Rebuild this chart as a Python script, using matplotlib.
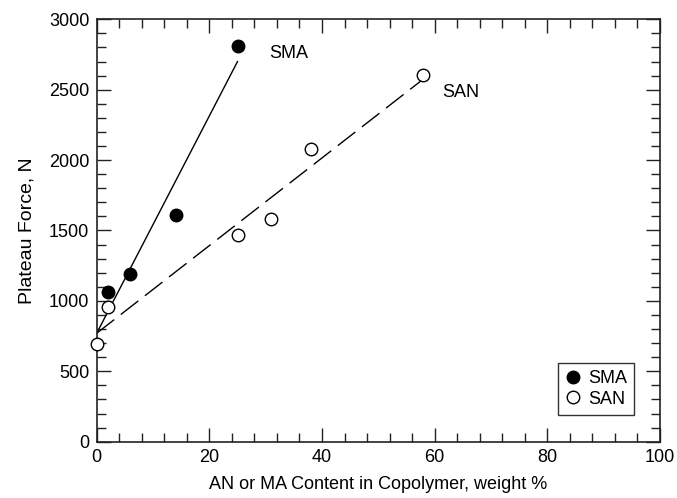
import matplotlib
matplotlib.use("Agg")
import matplotlib.pyplot as plt
from matplotlib.ticker import MultipleLocator

plt.rcParams['font.family'] = ['Liberation Sans', 'DejaVu Sans']

# Data
sma_x = [2, 6, 14, 25]
sma_y = [1063, 1193, 1610, 2812]
san_x = [0, 2, 25, 31, 38, 58]
san_y = [692, 959, 1466, 1582, 2081, 2604]

# Fit lines
sma_fit_x = [0, 25]
sma_fit_y = [770, 2700]
san_fit_x = [0, 58]
san_fit_y = [770, 2576]

fig = plt.figure(figsize=(6.77, 4.98), dpi=100)
ax = fig.add_axes([0.1428, 0.1131, 0.8321, 0.8481])

ax.plot(sma_fit_x, sma_fit_y, color='black', lw=1.0, zorder=2)
ax.plot(san_fit_x, san_fit_y, color='black', lw=1.0, dashes=(16, 6), zorder=2)

ax.plot(sma_x, sma_y, 'o', ms=9, mfc='black', mec='black', mew=1.0,
        label='SMA', zorder=3, clip_on=False)
ax.plot(san_x, san_y, 'o', ms=9, mfc='white', mec='black', mew=1.0,
        label='SAN', zorder=3, clip_on=False)

ax.text(30.6, 2723, 'SMA', fontsize=13, va='baseline', ha='left')
ax.text(61.4, 2450, 'SAN', fontsize=13, va='baseline', ha='left')

ax.set_xlim(0, 100)
ax.set_ylim(0, 3000)
ax.xaxis.set_major_locator(MultipleLocator(20))
ax.xaxis.set_minor_locator(MultipleLocator(4))
ax.yaxis.set_major_locator(MultipleLocator(500))
ax.yaxis.set_minor_locator(MultipleLocator(100))
ax.tick_params(which='both', direction='in', top=True, right=True,
               labelsize=13, color='#222222')
ax.tick_params(which='major', length=10, width=1.0, pad=5.3)
ax.tick_params(which='minor', length=6.5, width=1.0)
for s in ax.spines.values():
    s.set_linewidth(1.2)
    s.set_color('#222222')

ax.set_xlabel('AN or MA Content in Copolymer, weight %', fontsize=13, labelpad=7)
ax.set_ylabel('Plateau Force, N', fontsize=14, labelpad=10)

leg = ax.legend(loc='lower right', bbox_to_anchor=(0.9544, 0.0632), borderaxespad=0,
                fontsize=13, frameon=True, fancybox=False, handlelength=0.94,
                handletextpad=0.34, borderpad=0.4, labelspacing=0.2, markerscale=1.0)
leg.get_frame().set_edgecolor('black')
leg.get_frame().set_linewidth(1.0)

fig.savefig('out.png', dpi=100)
